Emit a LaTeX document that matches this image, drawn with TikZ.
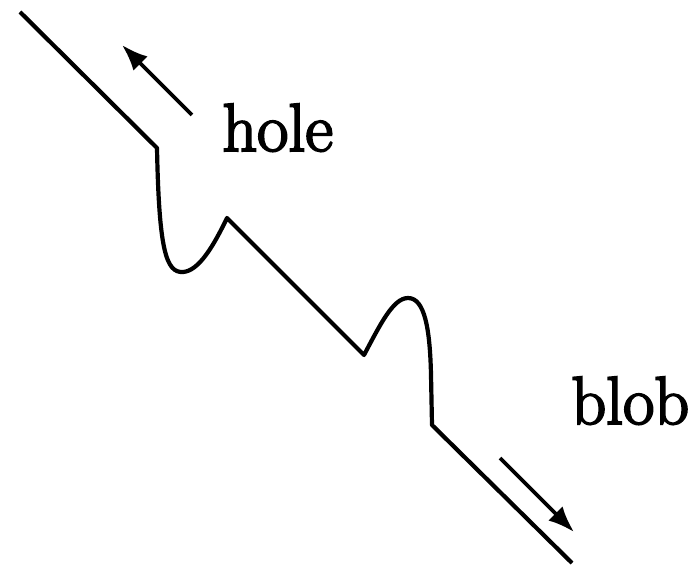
\documentclass[tikz,border=0pt]{standalone}
\usepackage{fontspec}
\usepackage{tikz}
\usetikzlibrary{arrows.meta,positioning}
\newfontfamily\lblfont[FakeBold=3]{Latin Modern Roman}

\begin{document}
\begin{tikzpicture}[
  x=0.5pt, y=-0.5pt,
  wire/.style={line width=2.1pt, line join=round},
  arr/.style={-{Latex[length=13pt, width=10pt]}, line width=1.8pt},
  lbl/.style={font=\lblfont\fontsize{34}{40}\selectfont, inner sep=0pt}
]
\useasboundingbox (0,0) rectangle (690,566);
% labels
\node[lbl, anchor=base west] (hole) at (222,151) {hole};
\node[lbl, anchor=base west] (blob) at (571,424) {blob};
% corners of the line
\coordinate (start) at (20,12);
\coordinate (k1) at (157,148);
\coordinate (dip) at (183,272);
\coordinate (p1) at (227,218);
\coordinate (v1) at (364,355);
\coordinate (bump) at (408,298);
\coordinate (k2) at (432,425);
\coordinate (end) at (572,563);
\draw[wire] (start) -- (k1)
  .. controls (159,250) and (166,273) .. (dip)
  .. controls (199,271) and (214,245) .. (p1)
  -- (v1)
  .. controls (380,325) and (393,298) .. (bump)
  .. controls (425,298) and (430,330) .. (431,375)
  -- (k2) -- (end);
% motion arrows
\coordinate (h0) at (192,115);
\coordinate (h1) at (122,45);
\coordinate (b0) at (500,458);
\coordinate (b1) at (574,532);
\draw[arr] (h0) -- (h1);
\draw[arr] (b0) -- (b1);
\end{tikzpicture}
\end{document}
